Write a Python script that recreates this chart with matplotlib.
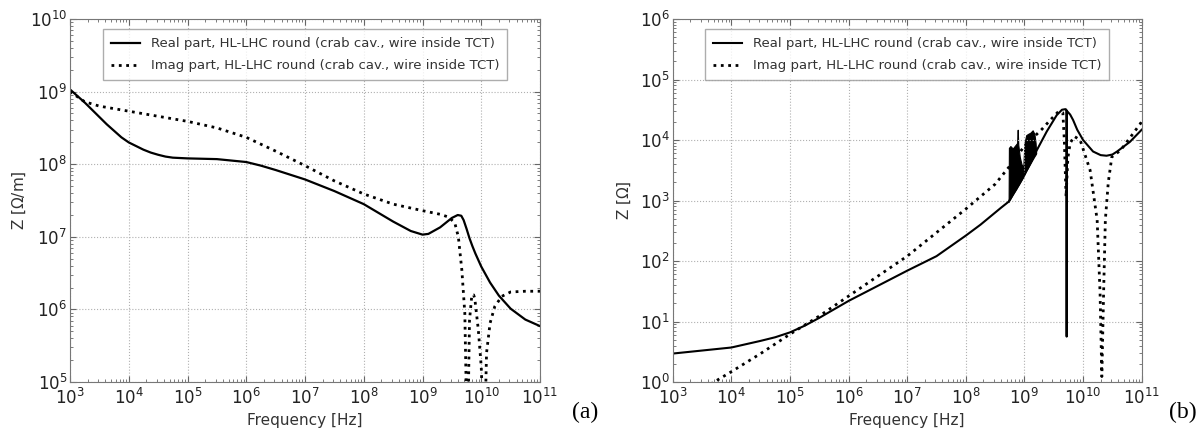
import numpy as np
import matplotlib
matplotlib.use('Agg')
import matplotlib.pyplot as plt

# --- dados (log10 da frequencia e log10 de |Z|) ---
# (a) impedancia transversal [Ohm/m]
a_real_f = [3.0, 3.125, 3.25, 3.375, 3.5, 3.625, 3.75, 3.875, 4.0, 4.125, 4.25, 4.375,
            4.5, 4.625, 4.75, 5.0, 5.5, 6.0, 6.25, 6.5, 7.0, 7.5, 8.0, 8.5, 8.8, 9.0,
            9.1, 9.3, 9.5, 9.6, 9.66, 9.7, 9.75, 9.8, 9.85, 9.9, 10.0, 10.15, 10.3,
            10.5, 10.75, 11.0]
a_real_z = [9.03, 8.94, 8.85, 8.75, 8.65, 8.55, 8.46, 8.37, 8.30, 8.25, 8.20, 8.16,
            8.13, 8.105, 8.09, 8.08, 8.07, 8.03, 7.98, 7.92, 7.79, 7.63, 7.45, 7.21,
            7.08, 7.03, 7.04, 7.13, 7.26, 7.30, 7.29, 7.23, 7.11, 6.98, 6.87, 6.77,
            6.59, 6.37, 6.19, 6.01, 5.86, 5.77]
a_imag_f = [3.0, 3.25, 3.5, 4.0, 4.5, 5.0, 5.5, 6.0, 6.5, 7.0, 7.5, 8.0, 8.5, 9.0,
            9.3, 9.45, 9.55, 9.61, 9.67, 9.72, 9.765, 9.80, 9.84, 9.87, 9.89, 9.95,
            10.0, 10.05, 10.09, 10.15, 10.23, 10.35, 10.5, 10.75, 11.0]
a_imag_z = [9.0, 8.86, 8.80, 8.73, 8.66, 8.59, 8.50, 8.37, 8.18, 7.98, 7.77, 7.59,
            7.45, 7.36, 7.31, 7.27, 7.19, 7.0, 6.54, 5.95, 4.0, 5.85, 6.20, 6.20,
            6.15, 5.72, 5.21, 4.0, 5.40, 5.81, 6.04, 6.18, 6.24, 6.25, 6.25]

# (b) impedancia longitudinal [Ohm]
b_real_f = [3.0, 3.5, 4.0, 4.5, 4.75, 5.0, 5.25, 5.5, 6.0, 6.5, 7.0, 7.5, 8.0, 8.25,
            8.5, 8.6, 8.73, 8.87, 9.04, 9.21, 9.38, 9.55, 9.64, 9.70, 9.715, 9.72,
            9.725, 9.78, 9.83, 9.9, 10.0, 10.17, 10.3, 10.4, 10.5, 10.58, 10.8, 11.0]
b_real_z = [0.47, 0.52, 0.57, 0.68, 0.74, 0.82, 0.93, 1.06, 1.34, 1.59, 1.84, 2.08,
            2.42, 2.60, 2.80, 2.88, 2.98, 3.20, 3.50, 3.83, 4.14, 4.41, 4.50, 4.51,
            4.50, 0.75, 4.48, 4.42, 4.33, 4.17, 4.0, 3.81, 3.75, 3.74, 3.76, 3.81,
            3.97, 4.17]
b_imag_f = [3.0, 4.0, 4.5, 5.0, 5.5, 6.0, 6.5, 7.0, 7.5, 8.0, 8.5, 8.75, 9.0, 9.3,
            9.44, 9.58, 9.655, 9.68, 9.71, 9.74, 9.78, 9.85, 9.95, 10.12, 10.24,
            10.29, 10.32, 10.35, 10.38, 10.43, 10.49, 10.64, 10.81, 11.0]
b_imag_z = [-0.41, 0.17, 0.47, 0.79, 1.09, 1.42, 1.75, 2.08, 2.47, 2.86, 3.27, 3.57,
            3.90, 4.18, 4.33, 4.47, 4.45, 4.0, 3.06, 3.7, 3.95, 4.06, 4.0, 3.5, 2.68,
            1.47, 0.09, 1.47, 2.68, 3.3, 3.72, 3.83, 4.05, 4.30]
# regiao ruidosa da parte real (b)
ruido_f = [8.73, 8.735, 8.76, 8.80, 8.85, 8.875, 8.885, 8.895, 8.92, 8.95, 8.98,
           9.00, 9.03, 9.06, 9.10, 9.14, 9.17, 9.19, 9.20]
ruido_lo = [2.98, 2.99, 3.03, 3.10, 3.18, 3.22, 3.24, 3.25, 3.29, 3.34, 3.39, 3.43,
            3.49, 3.54, 3.61, 3.68, 3.73, 3.76, 3.78]
ruido_hi = [2.98, 3.87, 3.90, 3.86, 3.92, 3.95, 4.17, 3.92, 3.72, 3.60, 3.55, 3.95,
            4.08, 4.10, 4.12, 4.16, 4.10, 3.95, 3.78]

leg_real = 'Real part, HL-LHC round (crab cav., wire inside TCT)'
leg_imag = 'Imag part, HL-LHC round (crab cav., wire inside TCT)'

def p10(v):
    return 10.0 ** np.array(v)

fig = plt.figure(figsize=(12.04, 4.32), dpi=100)
ax_a = fig.add_axes([70 / 1204, 50 / 432, 470 / 1204, 363 / 432])
ax_b = fig.add_axes([672.7 / 1204, 50 / 432, 469 / 1204, 363 / 432])

def estilo(ax, ylim, ylabel, ypos):
    ax.set_xscale('log')
    ax.set_yscale('log')
    ax.set_xlim(1e3, 1e11)
    ax.set_ylim(*ylim)
    ax.grid(True, which='major', linestyle=':', color='#b0b0b0', linewidth=0.8)
    ax.tick_params(which='both', direction='in', top=True, right=True,
                   colors='#666666', labelcolor='#222222', labelsize=12, pad=4)
    ax.tick_params(which='major', length=4)
    ax.tick_params(which='minor', length=2)
    ax.tick_params(axis='y', pad=2)
    for s in ax.spines.values():
        s.set_color('#777777')
    ax.set_xlabel('Frequency [Hz]', fontsize=11, color='#333333')
    ax.set_ylabel(ylabel, fontsize=11, color='#333333')
    ax.xaxis.set_label_coords(0.5, -0.085)
    ax.yaxis.set_label_coords(ypos, 0.5)
    leg = ax.legend(loc='upper center', fontsize=9.5, handlelength=2.2,
                    borderpad=0.6, labelspacing=0.7, fancybox=False,
                    bbox_to_anchor=(0.5, 0.99))
    leg.get_frame().set_edgecolor('#999999')
    leg.get_frame().set_linewidth(1.0)
    for t in leg.get_texts():
        t.set_color('#333333')

ax_a.plot(p10(a_real_f), p10(a_real_z), '-', color='black', lw=1.6, label=leg_real)
ax_a.plot(p10(a_imag_f), p10(a_imag_z), ':', color='black', lw=2.0, label=leg_imag)
estilo(ax_a, (1e5, 1e10), r'Z [$\Omega$/m]', -0.09)

ax_b.fill_between(p10(ruido_f), p10(ruido_lo), p10(ruido_hi), color='black', lw=0.8)
ax_b.plot(p10(b_real_f), p10(b_real_z), '-', color='black', lw=1.5, label=leg_real)
ax_b.plot(p10(b_imag_f), p10(b_imag_z), ':', color='black', lw=2.0, label=leg_imag)
estilo(ax_b, (1e0, 1e6), r'Z [$\Omega$]', -0.085)

fig.text(585 / 1204, 1 - 412 / 432, '(a)', family='Liberation Serif', fontsize=17,
         ha='center', va='center')
fig.text(1183 / 1204, 1 - 412 / 432, '(b)', family='Liberation Serif', fontsize=17,
         ha='center', va='center')

plt.savefig('out.png', dpi=100)
plt.close()
